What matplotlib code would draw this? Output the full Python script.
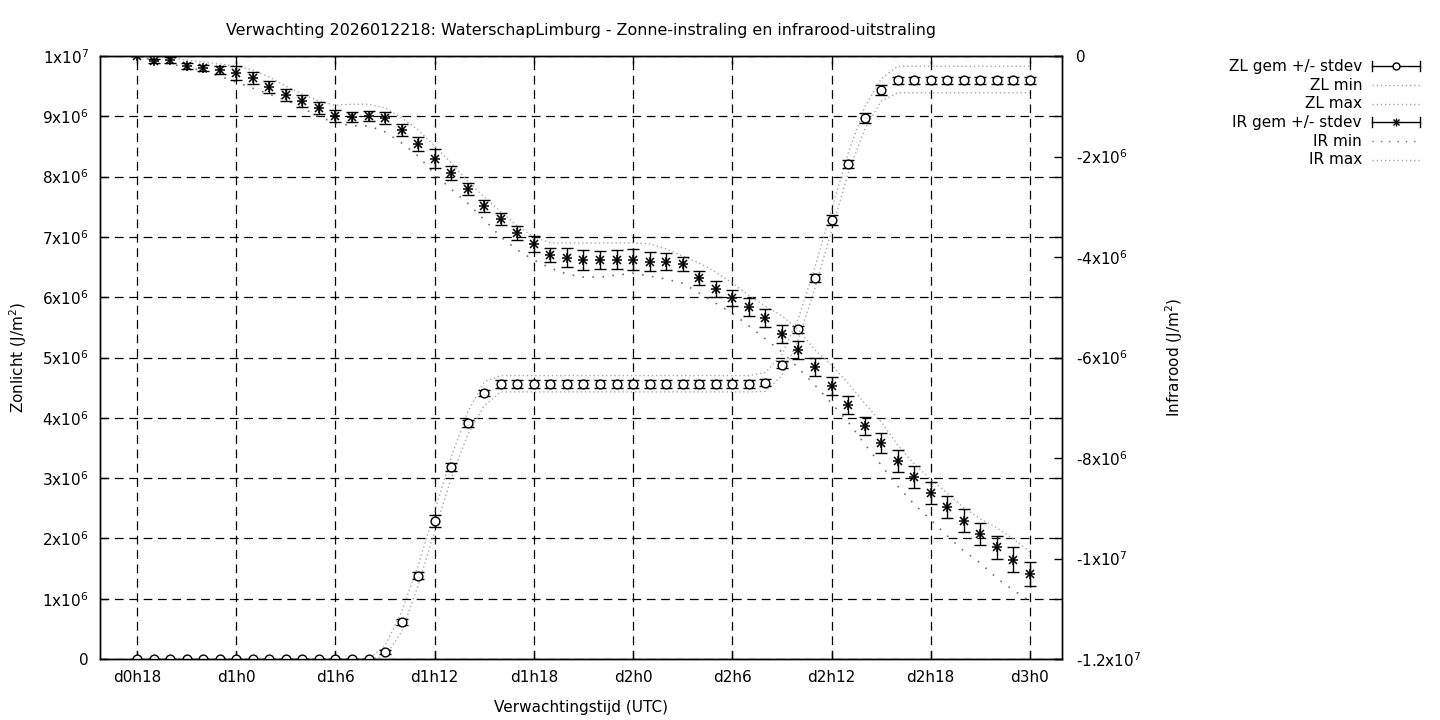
import matplotlib
matplotlib.use("Agg")
import matplotlib.pyplot as plt
from matplotlib.lines import Line2D
import numpy as np

# uren sinds d0h0 (d0h18 .. d3h0)
uren = list(range(18, 73))

# Zonlicht (x1e6 J/m2)
zl_gem = [0]*15 + [0.12, 0.61, 1.38, 2.29, 3.18, 3.91, 4.41] + [4.56]*16 + \
         [4.58, 4.88, 5.47, 6.32, 7.28, 8.21, 8.97, 9.44] + [9.60]*9
zl_std = [0]*15 + [0.03, 0.05, 0.06, 0.10, 0.07, 0.06, 0.05] + [0.06]*16 + \
         [0.06, 0.06, 0.06, 0.06, 0.08, 0.07, 0.08, 0.08] + [0.06]*9
zl_min = [0]*15 + [0.04, 0.45, 1.22, 2.12, 3.00, 3.72, 4.20] + [4.43]*16 + \
         [4.44, 4.70, 5.30, 6.15, 7.10, 8.05, 8.78, 9.25] + [9.39]*9
zl_max = [0]*15 + [0.22, 0.78, 1.55, 2.45, 3.35, 4.10, 4.60] + [4.70]*16 + \
         [4.75, 5.05, 5.65, 6.50, 7.45, 8.38, 9.15, 9.62] + [9.83]*9

# Infrarood (x1e6 J/m2)
ir_gem = [0, -0.09, -0.08, -0.20, -0.23, -0.27, -0.33, -0.44, -0.61, -0.78,
          -0.90, -1.04, -1.19, -1.22, -1.20, -1.24, -1.47, -1.76, -2.04, -2.33,
          -2.65, -2.98, -3.24, -3.53, -3.75, -3.96, -4.01, -4.06, -4.06, -4.05,
          -4.05, -4.09, -4.09, -4.14, -4.42, -4.64, -4.82, -4.99, -5.22, -5.53,
          -5.85, -6.18, -6.57, -6.95, -7.36, -7.71, -8.06, -8.38, -8.70, -8.98,
          -9.25, -9.51, -9.78, -10.02, -10.31]
ir_std = [0, 0.04, 0.06, 0.06, 0.06, 0.08, 0.14, 0.12, 0.12, 0.12,
          0.12, 0.12, 0.12, 0.10, 0.10, 0.12, 0.12, 0.14, 0.18, 0.14,
          0.12, 0.12, 0.12, 0.14, 0.16, 0.14, 0.18, 0.20, 0.18, 0.18,
          0.20, 0.18, 0.16, 0.14, 0.14, 0.16, 0.16, 0.18, 0.18, 0.18,
          0.18, 0.18, 0.18, 0.18, 0.18, 0.20, 0.22, 0.22, 0.22, 0.22,
          0.23, 0.22, 0.22, 0.24, 0.24]
ir_max = [0, -0.02, -0.04, -0.08, -0.12, -0.16, -0.20, -0.28, -0.42, -0.60,
          -0.76, -0.90, -0.98, -0.96, -0.96, -1.03, -1.23, -1.47, -1.79, -2.13,
          -2.49, -2.81, -3.10, -3.38, -3.60, -3.72, -3.72, -3.72, -3.72, -3.72,
          -3.72, -3.74, -3.84, -3.98, -4.12, -4.30, -4.52, -4.76, -4.98, -5.17,
          -5.45, -5.85, -6.15, -6.51, -6.91, -7.28, -7.74, -8.12, -8.42, -8.70,
          -8.99, -9.21, -9.39, -9.61, -9.87]
ir_min = [0, -0.08, -0.16, -0.22, -0.30, -0.40, -0.52, -0.64, -0.76, -0.88,
          -1.03, -1.21, -1.33, -1.39, -1.39, -1.51, -1.73, -1.99, -2.35, -2.65,
          -2.93, -3.26, -3.60, -3.86, -4.06, -4.22, -4.34, -4.40, -4.40, -4.36,
          -4.32, -4.38, -4.44, -4.52, -4.72, -4.92, -5.12, -5.37, -5.63, -5.89,
          -6.21, -6.55, -6.91, -7.28, -7.72, -8.14, -8.56, -8.92, -9.23, -9.55,
          -9.85, -10.09, -10.39, -10.63, -10.85]

x_ticks = [18, 24, 30, 36, 42, 48, 54, 60, 66, 72]
x_labels = ["d0h18", "d1h0", "d1h6", "d1h12", "d1h18", "d2h0", "d2h6", "d2h12", "d2h18", "d3h0"]
zl_ticks = [0, 1, 2, 3, 4, 5, 6, 7, 8, 9, 10]
zl_labels = ["0"] + [r"%dx10$^{6}$" % i for i in range(1, 10)] + [r"1x10$^{7}$"]
ir_ticks = [0, -2, -4, -6, -8, -10, -12]
ir_labels = ["0", r"-2x10$^{6}$", r"-4x10$^{6}$", r"-6x10$^{6}$", r"-8x10$^{6}$",
             r"-1x10$^{7}$", r"-1.2x10$^{7}$"]

plt.rcParams['font.family'] = 'DejaVu Sans'
plt.rcParams['font.size'] = 11
plt.rcParams['mathtext.fontset'] = 'dejavusans'

fig = plt.figure(figsize=(14.4, 7.2), dpi=100)
ax = fig.add_axes([100/1440, 1 - 659/720, 962/1440, 603/720])
ax2 = ax.twinx()

grijs_licht = '#a8a8a8'
grijs_donker = '#707070'

# zonlicht
ax.plot(uren, zl_min, linestyle=(0, (1, 2)), color=grijs_licht, lw=1)
ax.plot(uren, zl_max, linestyle=(0, (1, 2)), color=grijs_licht, lw=1)
ax.errorbar(uren, zl_gem, yerr=zl_std, fmt='o', ms=6.3, mfc='white', mec='black',
            mew=1, ecolor='black', elinewidth=1, capsize=4.5, capthick=1, zorder=5)

# infrarood
ax2.plot(uren, ir_min, linestyle=(0, (1, 5)), color=grijs_donker, lw=1.2)
ax2.plot(uren, ir_max, linestyle=(0, (1, 2)), color=grijs_licht, lw=1)
ax2.errorbar(uren, ir_gem, yerr=ir_std, fmt='none', ecolor='black',
             elinewidth=1, capsize=4.5, capthick=1, zorder=5)
ax2.plot(uren, ir_gem, linestyle='none', marker='+', ms=7.5, mew=1.1, color='black', zorder=6)
ax2.plot(uren, ir_gem, linestyle='none', marker='x', ms=5.5, mew=1.1, color='black', zorder=6)

ax.set_xlim(15.76, 73.94)
ax.set_ylim(0, 10)
ax2.set_ylim(-12, 0)

ax.set_xticks(x_ticks)
ax.set_xticklabels(x_labels)
ax.set_yticks(zl_ticks)
ax.set_yticklabels(zl_labels)
ax2.set_yticks(ir_ticks)
ax2.set_yticklabels(ir_labels)

ax.grid(True, color='black', linestyle=(0, (7, 4.5)), lw=0.9)
ax.tick_params(direction='in', length=6, width=1, top=True, right=True, pad=8)
ax2.tick_params(direction='in', length=6, width=1, pad=10)
for sp in list(ax.spines.values()) + list(ax2.spines.values()):
    sp.set_linewidth(1)

ax.set_xlabel("Verwachtingstijd (UTC)", labelpad=11)
ax.set_ylabel(r"Zonlicht (J/m$^{2}$)", labelpad=10)
ax2.set_ylabel(r"Infrarood (J/m$^{2}$)", labelpad=16)
ax.set_title("Verwachting 2026012218: WaterschapLimburg - Zonne-instraling en infrarood-uitstraling",
             pad=15, fontsize=11.4)

# legenda (zoals gnuplot)
rijen = [66, 85, 104, 122, 141, 160]
teksten = ["ZL gem +/- stdev", "ZL min", "ZL max", "IR gem +/- stdev", "IR min", "IR max"]
for yp, t in zip(rijen, teksten):
    fig.text(1362/1440, 1 - yp/720, t, ha='right', va='center')

def fy(p):
    return 1 - p/720

x0, x1, xm = 1372/1440, 1420/1440, 1396/1440
for yp, mk in [(66, 'o'), (122, '*')]:
    fig.add_artist(Line2D([x0, x1], [fy(yp), fy(yp)], color='black', lw=1))
    for xc in (x0, x1):
        fig.add_artist(Line2D([xc, xc], [fy(yp - 5), fy(yp + 5)], color='black', lw=1))
    if mk == 'o':
        fig.add_artist(Line2D([xm], [fy(yp)], marker='o', ms=5, mfc='white', mec='black', mew=1))
    else:
        fig.add_artist(Line2D([xm], [fy(yp)], marker='+', ms=6, mew=1, color='black'))
        fig.add_artist(Line2D([xm], [fy(yp)], marker='x', ms=4.5, mew=1, color='black'))
for yp, ls, c in [(85, (0, (1, 2)), grijs_licht), (104, (0, (1, 2)), grijs_licht),
                  (141, (0, (1, 5)), grijs_donker), (160, (0, (1, 2)), grijs_licht)]:
    fig.add_artist(Line2D([x0, x1], [fy(yp), fy(yp)], color=c, lw=1, linestyle=ls))

fig.savefig("out.png", dpi=100)
